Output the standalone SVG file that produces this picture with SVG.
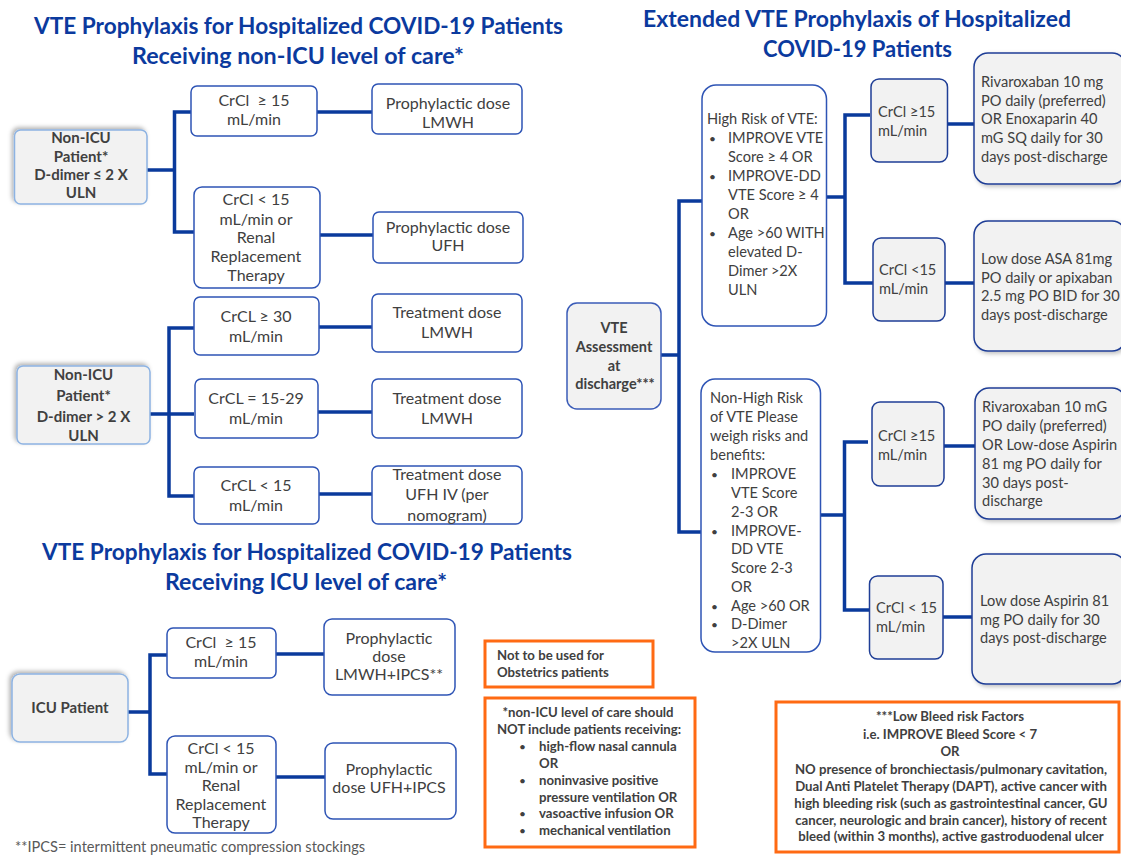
<svg xmlns="http://www.w3.org/2000/svg" width="1121" height="858" viewBox="0 0 1121 858">
<defs>
<filter id="sh" x="-20%" y="-20%" width="140%" height="140%">
<feDropShadow dx="-2" dy="-2" stdDeviation="2" flood-color="#000" flood-opacity="0.3"/>
</filter>
<filter id="sh2" x="-20%" y="-20%" width="140%" height="140%">
<feDropShadow dx="2" dy="2" stdDeviation="2" flood-color="#000" flood-opacity="0.25"/>
</filter>
<style>
text{font-family:Lato,"Liberation Sans",sans-serif;fill:#404040}
.t{font-weight:bold;fill:#0B3A9E;font-size:22px;text-anchor:middle}
.n{fill:#F2F2F2;stroke:#8DB3E2;stroke-width:1.5}
.b{fill:#fff;stroke:#2E54B5;stroke-width:1.5}
.g{fill:#F2F2F2;stroke:#1F3E96;stroke-width:1.5}
.o{fill:#fff;stroke:#FF6A13;stroke-width:3}
.c{fill:none;stroke:#0A3A9C;stroke-width:3.5}
.m{text-anchor:middle;font-size:16px}
.nb{text-anchor:middle;font-size:15px;font-weight:bold}
.r{font-size:14.6px}
.rb{font-size:14.5px;font-weight:bold;text-anchor:middle}
.ob{font-size:13.2px;font-weight:bold}
.obm{font-size:13.2px;font-weight:bold;text-anchor:middle}
.bl{font-size:12px}
</style>
</defs>
<rect width="1121" height="858" fill="#fff"/>

<g id="titles">
<text class="t" x="298.5" y="34" textLength="529" lengthAdjust="spacingAndGlyphs">VTE Prophylaxis for Hospitalized COVID-19 Patients</text>
<text class="t" x="298" y="64" textLength="332" lengthAdjust="spacingAndGlyphs">Receiving non-ICU level of care*</text>
<text class="t" x="307" y="560" textLength="530" lengthAdjust="spacingAndGlyphs">VTE Prophylaxis for Hospitalized COVID-19 Patients</text>
<text class="t" x="306" y="590" textLength="282" lengthAdjust="spacingAndGlyphs">Receiving ICU level of care*</text>
<text class="t" x="857" y="27" textLength="428" lengthAdjust="spacingAndGlyphs">Extended VTE Prophylaxis of Hospitalized</text>
<text class="t" x="857.5" y="57" textLength="189" lengthAdjust="spacingAndGlyphs">COVID-19 Patients</text>
</g>

<g id="connectors">
<path class="c" d="M147 170H174.5M191 112H174.5V232H194"/>
<path class="c" d="M317 112H372"/>
<path class="c" d="M320 235H373"/>
<path class="c" d="M150 414H194M194 328H169V496H194"/>
<path class="c" d="M319 327H372"/>
<path class="c" d="M318 412H372"/>
<path class="c" d="M319 494H372"/>
<path class="c" d="M128 712H150M167 655H150V774H167"/>
<path class="c" d="M276 654H324"/>
<path class="c" d="M276 777H325"/>
<path class="c" d="M661 355H679M702 201H679V532H701"/>
<path class="c" d="M826 197H845M870 115H845V283H873"/>
<path class="c" d="M947 124H974"/>
<path class="c" d="M945 283H974"/>
<path class="c" d="M820 515H844.5M868 442H844.5V610H870"/>
<path class="c" d="M944 446H975"/>
<path class="c" d="M943 617H972"/>
</g>

<g id="n1">
<rect class="n" x="14.5" y="130" width="132.5" height="74" rx="6" filter="url(#sh)"/>
<text class="nb" x="81" y="143">Non-ICU</text>
<text class="nb" x="81" y="162">Patient*</text>
<text class="nb" x="81" y="180">D-dimer ≤ 2 X</text>
<text class="nb" x="81" y="198">ULN</text>
</g>
<g id="n1a">
<rect class="b" x="191" y="86" width="126" height="50" rx="6"/>
<text class="m" x="254" y="106">CrCl &#160;≥ 15</text>
<text class="m" x="254" y="125">mL/min</text>
</g>
<g id="n1a2">
<rect class="b" x="372" y="84" width="150" height="50" rx="6"/>
<text class="m" x="448" y="109">Prophylactic dose</text>
<text class="m" x="448" y="128">LMWH</text>
</g>
<g id="n1b">
<rect class="b" x="194" y="187" width="126" height="101" rx="8"/>
<text class="m" x="256" y="205">CrCl &lt; 15</text>
<text class="m" x="256" y="225">mL/min or</text>
<text class="m" x="256" y="243">Renal</text>
<text class="m" x="256" y="262">Replacement</text>
<text class="m" x="256" y="281">Therapy</text>
</g>
<g id="n1b2">
<rect class="b" x="373" y="212" width="150" height="51" rx="6"/>
<text class="m" x="448" y="233">Prophylactic dose</text>
<text class="m" x="448" y="251">UFH</text>
</g>

<g id="n2">
<rect class="n" x="17" y="366" width="133" height="78" rx="6" filter="url(#sh)"/>
<text class="nb" x="83.5" y="380">Non-ICU</text>
<text class="nb" x="83.5" y="401">Patient*</text>
<text class="nb" x="83.5" y="422">D-dimer &gt; 2 X</text>
<text class="nb" x="83.5" y="441">ULN</text>
</g>
<g id="n2a">
<rect class="b" x="194" y="297" width="125" height="58" rx="6"/>
<text class="m" x="256" y="322">CrCL ≥ 30</text>
<text class="m" x="256" y="342">mL/min</text>
</g>
<g id="n2a2">
<rect class="b" x="372" y="294" width="150" height="58" rx="6"/>
<text class="m" x="447" y="318">Treatment dose</text>
<text class="m" x="447" y="338">LMWH</text>
</g>
<g id="n2b">
<rect class="b" x="195" y="379" width="123" height="59" rx="6"/>
<text class="m" x="256" y="404">CrCL = 15-29</text>
<text class="m" x="256" y="424">mL/min</text>
</g>
<g id="n2b2">
<rect class="b" x="372" y="379" width="150" height="59" rx="6"/>
<text class="m" x="447" y="404">Treatment dose</text>
<text class="m" x="447" y="424">LMWH</text>
</g>
<g id="n2c">
<rect class="b" x="194" y="467" width="125" height="57" rx="6"/>
<text class="m" x="256" y="491">CrCL &lt; 15</text>
<text class="m" x="256" y="511">mL/min</text>
</g>
<g id="n2c2">
<rect class="b" x="372" y="466" width="150" height="58" rx="6"/>
<text class="m" x="447" y="480">Treatment dose</text>
<text class="m" x="447" y="500">UFH IV (per</text>
<text class="m" x="447" y="521">nomogram)</text>
</g>

<g id="n3">
<rect class="n" x="12" y="674" width="116" height="68" rx="8" filter="url(#sh)"/>
<text class="nb" x="70" y="713">ICU Patient</text>
</g>
<g id="n3a">
<rect class="b" x="167" y="628" width="109" height="50" rx="6"/>
<text class="m" x="221" y="648">CrCl &#160;≥ 15</text>
<text class="m" x="221" y="667">mL/min</text>
</g>
<g id="n3a2">
<rect class="b" x="324" y="619" width="131" height="76" rx="8"/>
<text class="m" x="389" y="644">Prophylactic</text>
<text class="m" x="389" y="662">dose</text>
<text class="m" x="389" y="680">LMWH+IPCS**</text>
</g>
<g id="n3b">
<rect class="b" x="167" y="736" width="109" height="97" rx="8"/>
<text class="m" x="221" y="754">CrCl &lt; 15</text>
<text class="m" x="221" y="773">mL/min or</text>
<text class="m" x="221" y="791">Renal</text>
<text class="m" x="221" y="810">Replacement</text>
<text class="m" x="221" y="828">Therapy</text>
</g>
<g id="n3b2">
<rect class="b" x="325" y="743" width="131" height="76" rx="8"/>
<text class="m" x="389" y="775">Prophylactic</text>
<text class="m" x="389" y="793">dose UFH+IPCS</text>
</g>
<text id="footnote" x="15" y="852" style="font-size:14.6px;fill:#595959">**IPCS= intermittent pneumatic compression stockings</text>

<g id="note1">
<rect class="o" x="485" y="641" width="168" height="46"/>
<text class="ob" x="497" y="660">Not to be used for</text>
<text class="ob" x="497" y="677">Obstetrics patients</text>
</g>
<g id="note2">
<rect class="o" x="485" y="698" width="210" height="149"/>
<text class="obm" x="588" y="717">*non-ICU level of care should</text>
<text class="obm" x="589" y="734">NOT include patients receiving:</text>
<text class="bl" x="519" y="751">•</text><text class="ob" x="539" y="751">high-flow nasal cannula</text>
<text class="ob" x="539" y="768">OR</text>
<text class="bl" x="519" y="785">•</text><text class="ob" x="539" y="785">noninvasive positive</text>
<text class="ob" x="539" y="802">pressure ventilation OR</text>
<text class="bl" x="519" y="818">•</text><text class="ob" x="539" y="818">vasoactive infusion OR</text>
<text class="bl" x="519" y="835">•</text><text class="ob" x="539" y="835">mechanical ventilation</text>
</g>

<g id="vte">
<rect x="567" y="303" width="94" height="106" rx="10" fill="#F2F2F2" stroke="#3B5CB8" stroke-width="1.5"/>
<text class="rb" x="614" y="333">VTE</text>
<text class="rb" x="614" y="352">Assessment</text>
<text class="rb" x="614" y="371">at</text>
<text class="rb" x="615" y="389">discharge***</text>
</g>
<g id="high">
<rect class="b" x="702" y="85" width="124.5" height="241" rx="14"/>
<text class="r" x="707" y="124">High Risk of VTE:</text>
<text class="bl" x="709" y="143">•</text><text class="r" x="728" y="143">IMPROVE VTE</text>
<text class="r" x="728" y="162">Score ≥ 4 OR</text>
<text class="bl" x="709" y="181">•</text><text class="r" x="728" y="181">IMPROVE-DD</text>
<text class="r" x="728" y="200">VTE Score ≥ 4</text>
<text class="r" x="728" y="219">OR</text>
<text class="bl" x="709" y="238">•</text><text class="r" x="728" y="238">Age &gt;60 WITH</text>
<text class="r" x="728" y="257">elevated D-</text>
<text class="r" x="728" y="276">Dimer &gt;2X</text>
<text class="r" x="728" y="295">ULN</text>
</g>
<g id="h1">
<rect class="g" x="871" y="79" width="76.5" height="83" rx="8"/>
<text class="r" x="878" y="117">CrCl ≥15</text>
<text class="r" x="878" y="136">mL/min</text>
</g>
<g id="h1r">
<rect class="g" x="974" y="53" width="152" height="131" rx="14" filter="url(#sh2)"/>
<text class="r" x="981" y="87">Rivaroxaban 10 mg</text>
<text class="r" x="981" y="106">PO daily (preferred)</text>
<text class="r" x="981" y="124">OR Enoxaparin 40</text>
<text class="r" x="981" y="143">mG SQ daily for 30</text>
<text class="r" x="981" y="162">days post-discharge</text>
</g>
<g id="h2">
<rect class="g" x="873" y="238" width="72" height="83" rx="8"/>
<text class="r" x="879" y="275">CrCl &lt;15</text>
<text class="r" x="879" y="294">mL/min</text>
</g>
<g id="h2r">
<rect class="g" x="974" y="221" width="152" height="130" rx="14" filter="url(#sh2)"/>
<text class="r" x="981" y="264">Low dose ASA 81mg</text>
<text class="r" x="981" y="283">PO daily or apixaban</text>
<text class="r" x="981" y="301">2.5 mg PO BID for 30</text>
<text class="r" x="981" y="320">days post-discharge</text>
</g>
<g id="nonhigh">
<rect class="b" x="701" y="379" width="119.5" height="273" rx="14"/>
<text class="r" x="710" y="403">Non-High Risk</text>
<text class="r" x="710" y="422">of VTE Please</text>
<text class="r" x="710" y="441">weigh risks and</text>
<text class="r" x="710" y="460">benefits:</text>
<text class="bl" x="711" y="479">•</text><text class="r" x="731" y="479">IMPROVE</text>
<text class="r" x="731" y="498">VTE Score</text>
<text class="r" x="731" y="517">2-3 OR</text>
<text class="bl" x="711" y="536">•</text><text class="r" x="731" y="536">IMPROVE-</text>
<text class="r" x="731" y="554">DD VTE</text>
<text class="r" x="731" y="573">Score 2-3</text>
<text class="r" x="731" y="592">OR</text>
<text class="bl" x="711" y="611">•</text><text class="r" x="731" y="611">Age &gt;60 OR</text>
<text class="bl" x="711" y="629">•</text><text class="r" x="731" y="629">D-Dimer</text>
<text class="r" x="731" y="648">&gt;2X ULN</text>
</g>
<g id="l1">
<rect class="g" x="872" y="402" width="72" height="84" rx="8"/>
<text class="r" x="878" y="441">CrCl ≥15</text>
<text class="r" x="878" y="460">mL/min</text>
</g>
<g id="l1r">
<rect class="g" x="975" y="388" width="151" height="131" rx="14" filter="url(#sh2)"/>
<text class="r" x="982" y="412">Rivaroxaban 10 mG</text>
<text class="r" x="982" y="431">PO daily (preferred)</text>
<text class="r" x="982" y="450">OR Low-dose Aspirin</text>
<text class="r" x="982" y="469">81 mg PO daily for</text>
<text class="r" x="982" y="488">30 days post-</text>
<text class="r" x="982" y="506">discharge</text>
</g>
<g id="l2">
<rect class="g" x="869.5" y="576" width="73.5" height="83" rx="8"/>
<text class="r" x="876" y="613">CrCl &lt; 15</text>
<text class="r" x="876" y="632">mL/min</text>
</g>
<g id="l2r">
<rect class="g" x="972" y="554" width="154" height="130" rx="14" filter="url(#sh2)"/>
<text class="r" x="980" y="606">Low dose Aspirin 81</text>
<text class="r" x="980" y="625">mg PO daily for 30</text>
<text class="r" x="980" y="643">days post-discharge</text>
</g>

<g id="note3">
<rect class="o" x="776" y="702" width="343" height="150"/>
<text class="obm" x="950" y="721">***Low Bleed risk Factors</text>
<text class="obm" x="950" y="739">i.e. IMPROVE Bleed Score &lt; 7</text>
<text class="obm" x="950" y="756">OR</text>
<text class="obm" x="951" y="774">NO presence of bronchiectasis/pulmonary cavitation,</text>
<text class="obm" x="951" y="791">Dual Anti Platelet Therapy (DAPT), active cancer with</text>
<text class="obm" x="951" y="808">high bleeding risk (such as gastrointestinal cancer, GU</text>
<text class="obm" x="951" y="825">cancer, neurologic and brain cancer), history of recent</text>
<text class="obm" x="951" y="841">bleed (within 3 months), active gastroduodenal ulcer</text>
</g>
</svg>
